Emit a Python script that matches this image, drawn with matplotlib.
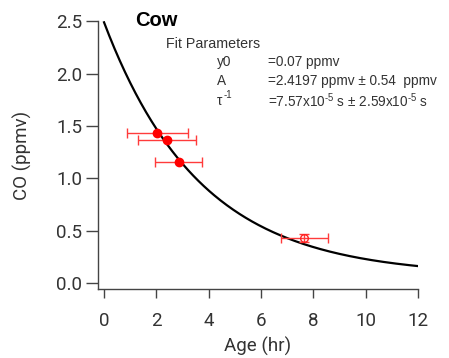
import numpy as np
import matplotlib
matplotlib.use("Agg")
import matplotlib.pyplot as plt

plt.rcParams['font.family'] = ['Roboto', 'DejaVu Sans']
plt.rcParams['mathtext.fontset'] = 'custom'
plt.rcParams['mathtext.rm'] = 'Liberation Sans'
plt.rcParams['mathtext.it'] = 'Liberation Sans'

# measured CO vs plume age
age_hr = [2.03, 2.42, 2.85]
co_ppmv = [1.43, 1.37, 1.16]
age_err = [1.17, 1.11, 0.90]

# outlier point (not used in fit)
age_out = [7.65]
co_out = [0.43]
age_out_err = [0.90]

# exponential fit: y = y0 + A*exp(-t/tau)
y0 = 0.07
A = 2.4197
inv_tau_s = 7.57e-5

t = np.linspace(0, 12, 300)
fit = y0 + A * np.exp(-t * inv_tau_s * 3600)

fig = plt.figure(figsize=(4.49, 3.58), dpi=100)
ax = fig.add_axes([0.2183, 0.1927, 0.7127, 0.748])

ax.plot(t, fit, color='black', lw=1.6, zorder=2)

ax.errorbar(age_hr, co_ppmv, xerr=age_err, fmt='o', color='red', ms=6,
            ecolor='#ff3b3b', elinewidth=1.0, capsize=3.5, capthick=1.0, zorder=3)
ax.errorbar(age_out, co_out, xerr=age_out_err, yerr=0.035, fmt='o', mfc='none',
            mec='#ff2020', ms=5.5, mew=1.0, ecolor='#ff3b3b', elinewidth=1.0,
            capsize=3.5, capthick=1.0, zorder=3)

ax.set_xlim(-0.23, 12)
ax.set_ylim(-0.057, 2.5)
ax.set_xticks(range(0, 13, 2))
ax.set_yticks(np.arange(0, 2.51, 0.5))
ax.yaxis.set_major_formatter(matplotlib.ticker.FormatStrFormatter('%.1f'))

for s in ['top', 'right']:
    ax.spines[s].set_visible(False)
for s in ['left', 'bottom']:
    ax.spines[s].set_color('#444444')
    ax.spines[s].set_linewidth(1.0)
ax.tick_params(direction='out', width=1.0, color='#444444',
               labelsize=13.5, labelcolor='#333333')
ax.tick_params(axis='x', length=6.5, pad=10)
ax.tick_params(axis='y', length=8.5, pad=3)

ax.set_xlabel('Age (hr)', fontsize=13.5, color='#333333', labelpad=5)
ax.set_ylabel('CO (ppmv)', fontsize=13.5, color='#333333', labelpad=17)

# title and fit parameter annotations (figure pixel coords)
def put(x, y, s, **kw):
    fig.text(x / 449, 1 - y / 358, s, va='center', ha='left', **kw)

put(135, 21, 'Cow', fontsize=14.5, fontweight='bold', family='Liberation Sans', color='black')
put(166, 44, 'Fit Parameters', fontsize=10.3, family='Liberation Sans', color='#333333')
lab = dict(fontsize=9.8, family='Liberation Sans', color='#333333')
put(217, 62, 'y0', **lab)
put(268, 62, '=0.07 ppmv', **lab)
put(217, 81, 'A', **lab)
put(268, 81, '=2.4197 ppmv \u00b1 0.54  ppmv', **lab)
put(217, 101, '\u03c4', **lab)
put(224, 95, '-1', fontsize=7, family='Liberation Sans', color='#333333')
put(268, 101, '=7.57x10$^{\\text{-}5}$ s \u00b1 2.59x10$^{\\text{-}5}$ s', **lab)

fig.savefig('out.png', dpi=100)
